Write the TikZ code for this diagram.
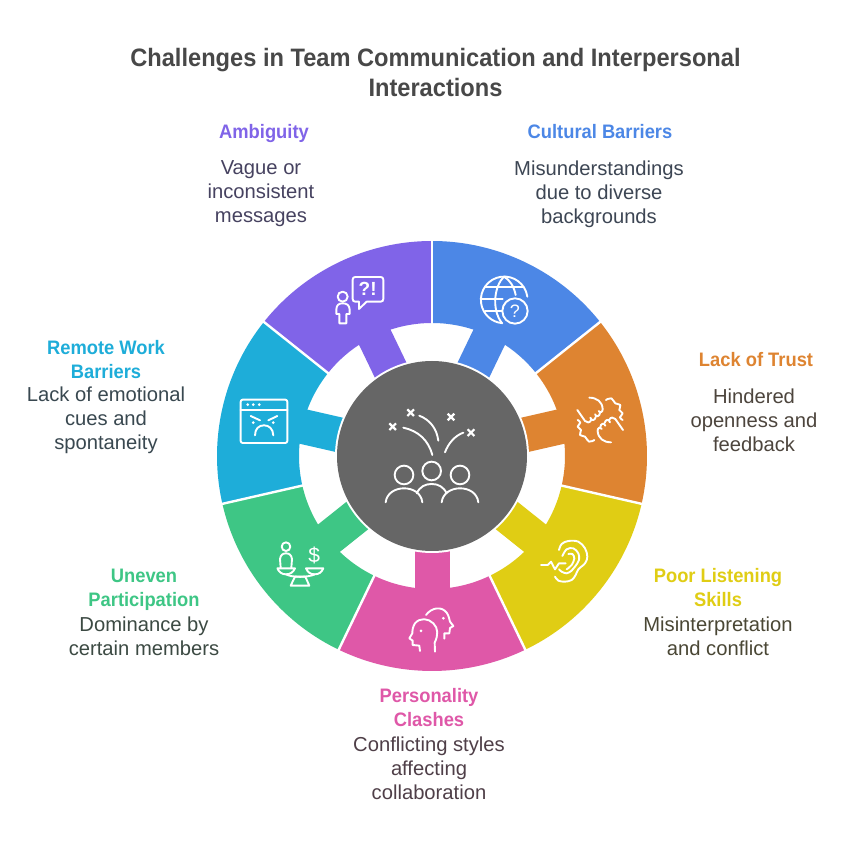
\documentclass[tikz,border=0pt]{standalone}
\usepackage{fontspec}
\setmainfont{Liberation Sans}
\newfontfamily\narrowtitle[FakeStretch=0.938]{Liberation Sans}
\newfontfamily\narrowhead[FakeStretch=0.94]{Liberation Sans}
\definecolor{cblue}{HTML}{4C87E6}
\definecolor{corange}{HTML}{DE8431}
\definecolor{cyellow}{HTML}{E0CD14}
\definecolor{cpink}{HTML}{DF58A8}
\definecolor{cgreen}{HTML}{3EC685}
\definecolor{ccyan}{HTML}{1EADD9}
\definecolor{cpurple}{HTML}{8064E8}
\definecolor{cgray}{HTML}{666666}
\definecolor{ctitle}{HTML}{484848}
\definecolor{tblue}{HTML}{3D4654}
\definecolor{torange}{HTML}{4D453D}
\definecolor{tyellow}{HTML}{4A4735}
\definecolor{tpink}{HTML}{4F3F48}
\definecolor{tgreen}{HTML}{3C4A43}
\definecolor{tcyan}{HTML}{394850}
\definecolor{tpurple}{HTML}{464260}
\tikzset{
  titletext/.style={align=center,inner sep=0pt,text=ctitle,font=\narrowtitle\fontsize{25.2}{29.5}\selectfont\bfseries},
  headtext/.style={align=center,inner sep=0pt,font=\narrowhead\fontsize{19.5}{24}\selectfont\bfseries},
  bodytext/.style={align=center,inner sep=0pt,font=\fontsize{20.2}{24}\selectfont},
  icon/.style={draw=white,line width=1.9pt,line cap=round,line join=round},
  dot/.style={fill=white,draw=none},
  zoomed/.style n args={2}{shift={(#1,852-#2)},x=0.3333pt,y=-0.3333pt},
  crossmark/.pic={\draw[icon,line cap=butt,line width=2.2pt] (-10,-10) -- (10,10) (-10,10) -- (10,-10);}
}
\newcommand{\halfshake}{%
  \draw[icon] (73,38) .. controls (95,38) and (112,50) .. (113,72)
     .. controls (114,80) and (106,86) .. (101,78)
     (105,84) .. controls (104,94) and (94,98) .. (90,88)
     (92,96) .. controls (90,106) and (80,110) .. (76,98)
     (78,106) .. controls (74,114) and (66,114) .. (60,108) -- (37,75);
  \draw[icon] plot[smooth,tension=.7] coordinates {(38,105) (46,113) (38,125) (48,135) (45,150) (60,155) (72,170) (88,165)};
}
\begin{document}
\begin{tikzpicture}[x=1pt,y=1pt]
\useasboundingbox (0,0) rectangle (852,852);
\fill[white] (0,0) rectangle (852,852);
% ring
\begin{scope}[shift={(432,396)}]
\foreach \k/\c in {0/cblue,1/corange,2/cyellow,3/cpink,4/cgreen,5/ccyan,6/cpurple}{
  \pgfmathsetmacro{\sa}{90-\k*360/7}
  \pgfmathsetmacro{\ea}{90-(\k+1)*360/7}
  \pgfmathsetmacro{\ma}{(\sa+\ea)/2}
  \fill[\c] (\sa:133) arc[start angle=\sa,end angle=\ea,radius=133] -- (\ea:215) arc[start angle=\ea,end angle=\sa,radius=215] -- cycle;
  \fill[\c,rotate=\ma] (85,-17.5) rectangle (140,17.5);
}
\foreach \k in {0,...,6}{
  \pgfmathsetmacro{\sa}{90-\k*360/7}
  \draw[white,line width=2.4pt] (\sa:132) -- (\sa:217);
}
\fill[white] (0,0) circle[radius=97];
\node[circle,fill=cgray,minimum size=190pt,inner sep=0pt] (hub) at (0,0) {};
\end{scope}
% texts
\node[titletext] (title) at (435.5,779.5) {Challenges in Team Communication and Interpersonal\\Interactions};
\node[headtext,text=cpurple] (h1) at (264,718) {Ambiguity};
\node[bodytext,text=tpurple] (b1) at (261,658) {Vague or\\inconsistent\\messages};
\node[headtext,text=cblue] (h2) at (600,720) {Cultural Barriers};
\node[bodytext,text=tblue] (b2) at (599,658) {Misunderstandings\\due to diverse\\backgrounds};
\node[headtext,text=corange] (h3) at (756,492) {Lack of Trust};
\node[bodytext,text=torange] (b3) at (754,432) {Hindered\\openness and\\feedback};
\node[headtext,text=cyellow] (h4) at (718,264) {Poor Listening\\Skills};
\node[bodytext,text=tyellow] (b4) at (718,216) {Misinterpretation\\and conflict};
\node[headtext,text=cpink] (h5) at (429,144) {Personality\\Clashes};
\node[bodytext,text=tpink] (b5) at (429,84) {Conflicting styles\\affecting\\collaboration};
\node[headtext,text=cgreen] (h6) at (144,262) {Uneven\\Participation};
\node[bodytext,text=tgreen] (b6) at (144,216) {Dominance by\\certain members};
\node[headtext,text=ccyan] (h7) at (106,492) {Remote Work\\Barriers};
\node[bodytext,text=tcyan] (b7) at (106,432) {Lack of emotional\\cues and\\spontaneity};
% purple icon
\begin{scope}[zoomed={210}{230}]
\draw[icon] (398,200) circle[radius=15];
\draw[icon] (388,280) -- (388,252) -- (379,252) -- (379,238) .. controls (380,225) and (386,220) .. (398,220) .. controls (410,220) and (418,225) .. (419,238) -- (419,252) -- (409,252) -- (409,280) -- cycle;
\draw[icon] (436,141) -- (512,141) .. controls (517,141) and (520,144) .. (520,149) -- (520,207) .. controls (520,212) and (517,215) .. (512,215) -- (470,215) -- (447,237) -- (447,215) -- (436,215) .. controls (431,215) and (428,212) .. (428,207) -- (428,149) .. controls (428,144) and (431,141) .. (436,141) -- cycle;
\node[text=white,inner sep=0pt,font=\fontsize{19}{19}\selectfont\bfseries] (qm) at (473,177) {?!};
\end{scope}
% globe icon
\begin{scope}[zoomed={430}{230}]
\draw[icon] (292,200) arc[start angle=-8,end angle=-265,radius=70];
\draw[icon] (255,243) circle[radius=38];
\draw[icon] (222,140) .. controls (195,165) and (182,235) .. (216,280);
\draw[icon] (222,140) .. controls (240,150) and (252,170) .. (257,195);
\draw[icon] (165,172) -- (281,172) (152,207) -- (218,207) (165,243) -- (216,243);
\node[text=white,inner sep=0pt,font=\fontsize{18}{18}\selectfont] (qg) at (255,243) {?};
\end{scope}
% handshake icon
\begin{scope}[zoomed={565}{385}]
\halfshake
\begin{scope}[rotate around={180:(105.5,105)}]
\halfshake
\end{scope}
\end{scope}
% ear icon
\begin{scope}[zoomed={535}{530}]
\draw[icon] plot[smooth,tension=.6] coordinates {(72,60) (80,42) (100,33) (130,35) (150,55) (157,80) (150,100) (130,118) (122,135) (110,150) (90,155) (70,152) (60,140)};
\draw[icon] plot[smooth,tension=.6] coordinates {(82,78) (95,58) (115,55) (130,70) (132,90) (120,110) (110,122) (95,130) (80,125) (72,118)};
\draw[icon] plot[smooth,tension=.6] coordinates {(100,72) (112,72) (118,85) (110,105) (95,118)};
\draw[icon] (18,105) -- (38,105) -- (48,95) -- (60,118) -- (72,100) -- (92,100);
\end{scope}
% heads icon
\begin{scope}[zoomed={400}{600}]
\draw[icon] (105,155) -- (104,128) .. controls (115,105) and (115,85) .. (100,70) .. controls (85,55) and (60,52) .. (45,70) .. controls (38,80) and (37,92) .. (37,100) -- (28,115) -- (38,122) -- (38,135) -- (58,137) -- (60,153);
\fill[dot] (63,93) circle[radius=4.5];
\draw[icon] (78,45) .. controls (95,22) and (125,18) .. (140,38) .. controls (147,48) and (148,58) .. (150,65) -- (160,78) -- (150,84) -- (148,100) -- (133,100) -- (133,116);
\fill[dot] (130,55) circle[radius=4.5];
\end{scope}
% scale icon
\begin{scope}[zoomed={270}{535}]
\draw[icon] (48,35) circle[radius=13];
\draw[icon] (32,98) -- (30,72) .. controls (32,60) and (38,55) .. (48,55) .. controls (58,55) and (64,60) .. (66,72) -- (64,98);
\draw[icon] (22,100) -- (75,100) .. controls (70,112) and (60,118) .. (48,118) .. controls (36,118) and (27,112) .. (22,100) -- cycle;
\draw[icon] (108,100) -- (160,100) .. controls (155,112) and (147,118) .. (134,118) .. controls (121,118) and (113,112) .. (108,100) -- cycle;
\draw[icon] (48,118) .. controls (65,128) and (115,128) .. (134,118);
\draw[icon] (62,152) -- (75,125) -- (106,125) -- (118,152) -- cycle;
\node[text=white,inner sep=0pt,font=\fontsize{21}{21}\selectfont] (dollar) at (133,60) {\$};
\end{scope}
% browser icon
\begin{scope}[zoomed={235}{392}]
\draw[icon,rounded corners=2pt] (17,23) rectangle (157,153);
\draw[icon] (17,55) -- (157,55);
\fill[dot] (38,38) circle[radius=4.5] (55,38) circle[radius=4.5] (73,38) circle[radius=4.5];
\draw[icon] (47,72) -- (75,85) (127,72) -- (100,85);
\fill[dot] (55,92) circle[radius=4.5] (115,92) circle[radius=4.5];
\draw[icon] (60,130) .. controls (60,110) and (72,100) .. (87,100) .. controls (102,100) and (114,110) .. (115,130);
\end{scope}
% hub icon
\begin{scope}[zoomed={370}{395}]
\draw[icon] (102,240) circle[radius=28] (185,228) circle[radius=28] (270,240) circle[radius=28];
\draw[icon] (47,322) .. controls (50,295) and (75,280) .. (102,280) .. controls (130,280) and (154,295) .. (157,322);
\draw[icon] (140,295) .. controls (150,275) and (165,267) .. (185,267) .. controls (205,267) and (220,275) .. (230,295);
\draw[icon] (215,322) .. controls (218,295) and (243,280) .. (270,280) .. controls (298,280) and (322,295) .. (325,322);
\draw[icon] (100,98) .. controls (145,108) and (175,135) .. (187,180);
\draw[icon] (148,62) .. controls (180,75) and (200,100) .. (205,137);
\draw[icon] (225,172) .. controls (235,145) and (255,122) .. (280,113);
\pic at (68,95) {crossmark};
\pic at (122,53) {crossmark};
\pic at (243,66) {crossmark};
\pic at (303,113) {crossmark};
\end{scope}
\end{tikzpicture}
\end{document}
